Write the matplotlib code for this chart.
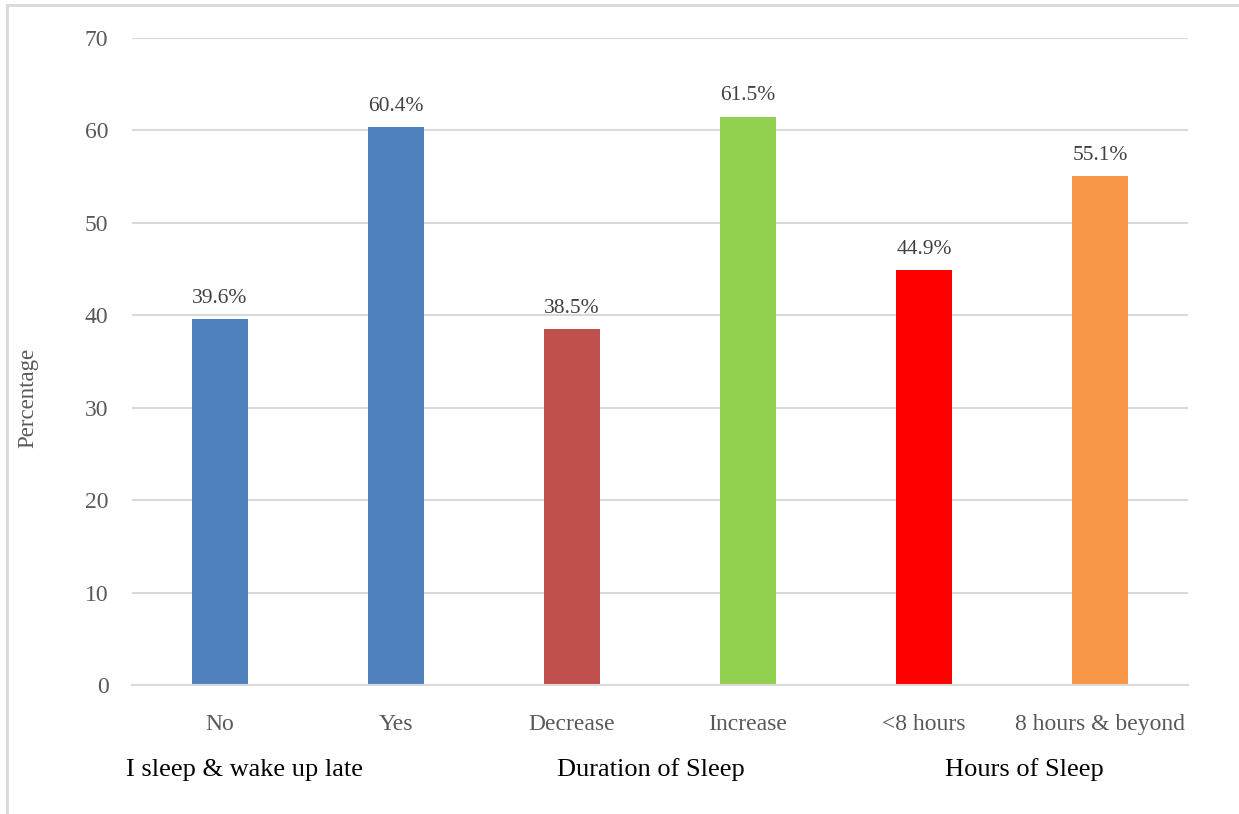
import matplotlib
matplotlib.use("Agg")
import matplotlib.pyplot as plt
from matplotlib.lines import Line2D

categories = ["No", "Yes", "Decrease", "Increase", "<8 hours", "8 hours & beyond"]
values = [39.6, 60.4, 38.5, 61.5, 44.9, 55.1]
colors = ["#4F81BD", "#4F81BD", "#C0504D", "#92D050", "#FF0000", "#F79646"]
groups = ["I sleep & wake up late", "Duration of Sleep", "Hours of Sleep"]
yticks = [0, 10, 20, 30, 40, 50, 60, 70]

plt.rcParams["font.family"] = ["Liberation Serif", "DejaVu Serif"]

W, H = 1239, 814
fig = plt.figure(figsize=(W / 100, H / 100), dpi=100)
ax = fig.add_axes([132 / W, 1 - 685 / H, (1188 - 132) / W, (685 - 38) / H])

x = list(range(len(categories)))
bars = ax.bar(x, values, width=0.318, color=colors, zorder=3)
ax.set_xlim(-0.5, len(categories) - 0.5)
ax.set_ylim(0, 70)

for b, v in zip(bars, values):
    ax.annotate(f"{v}%", (b.get_x() + b.get_width() / 2, v),
                xytext=(0, 8), textcoords="offset points",
                ha="center", va="bottom", fontsize=15.5, color="#404040")

ax.set_yticks(yticks)
ax.set_xticks(x)
ax.set_xticklabels(categories)
ax.tick_params(axis="both", length=0, labelsize=17, labelcolor="#595959")
ax.tick_params(axis="y", pad=17)
ax.tick_params(axis="x", pad=21)
ax.yaxis.grid(True, color="#D9D9D9", linewidth=1.5, zorder=0)
for s in ["top", "right", "left"]:
    ax.spines[s].set_visible(False)
ax.spines["bottom"].set_color("#D9D9D9")
ax.spines["bottom"].set_linewidth(1.5)
ax.spines["bottom"].set_zorder(4)

fig.text(28 / W, 1 - 398 / H, "Percentage", rotation=90, ha="center",
         va="center", fontsize=16.5, color="#595959")

group_px = [244, 651, 1024]
for g, px in zip(groups, group_px):
    fig.text(px / W, 1 - 770 / H, g, ha="center", va="center",
             fontsize=19, color="black")

# light frame along the top and left edges
fig.add_artist(Line2D([7 / W, 7 / W], [1 - 5 / H, 0], color="#D9D9D9",
                      linewidth=2, transform=fig.transFigure))
fig.add_artist(Line2D([7 / W, 1], [1 - 5 / H, 1 - 5 / H], color="#D9D9D9",
                      linewidth=2, transform=fig.transFigure))

fig.savefig("out.png", dpi=100, facecolor="white")
